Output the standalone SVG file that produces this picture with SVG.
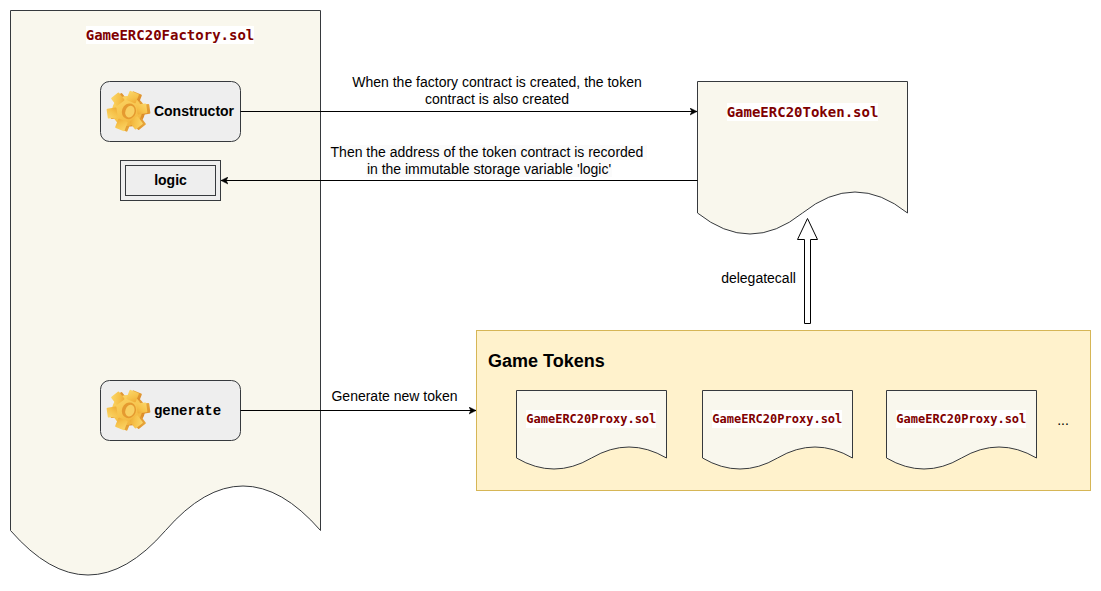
<svg xmlns="http://www.w3.org/2000/svg" xmlns:xlink="http://www.w3.org/1999/xlink" width="1101" height="591" viewBox="0 0 1101 591">
<style>
.doc{fill:#f9f7ed;stroke:#36393d;stroke-width:1}
.box{fill:#eeeeee;stroke:#36393d;stroke-width:1}
.edge{fill:none;stroke:#000;stroke-width:1}
.t{font-family:"Liberation Sans",Arial,sans-serif;font-size:14px;fill:#000;text-anchor:middle}
.b{font-weight:700}
.code{font-family:"DejaVu Sans Mono",monospace;font-weight:700;fill:#800000;text-anchor:middle}
.cbg{fill:#fff}
.lbg{fill:#fbfbfb}
</style>
<defs>
<marker id="arrow" markerWidth="8" markerHeight="8" refX="7" refY="4" orient="auto" markerUnits="userSpaceOnUse"><path d="M0 0.5L7 4L0 7.5L1.8 4Z" fill="#000" stroke="#000" stroke-width="0.5"/></marker>
<linearGradient id="gf" x1="0" y1="0" x2="1" y2="1"><stop offset="0" stop-color="#fbd76a"/><stop offset="0.6" stop-color="#f6c24a"/><stop offset="1" stop-color="#eeaa35"/></linearGradient>
<linearGradient id="gb" x1="0" y1="0" x2="1" y2="1"><stop offset="0" stop-color="#e9a93c"/><stop offset="1" stop-color="#d98526"/></linearGradient>
<g id="teeth">
<circle r="15"/>
<rect x="-5" y="-20" width="10" height="10" rx="1"/>
<rect x="-5" y="-20" width="10" height="10" rx="1" transform="rotate(60)"/>
<rect x="-5" y="-20" width="10" height="10" rx="1" transform="rotate(120)"/>
<rect x="-5" y="-20" width="10" height="10" rx="1" transform="rotate(180)"/>
<rect x="-5" y="-20" width="10" height="10" rx="1" transform="rotate(240)"/>
<rect x="-5" y="-20" width="10" height="10" rx="1" transform="rotate(300)"/>
</g>
<g id="gear">
<use xlink:href="#teeth" href="#teeth" fill="url(#gb)" transform="translate(2 0.5) rotate(22)"/>
<use xlink:href="#teeth" href="#teeth" fill="url(#gf)" transform="translate(-1 0) rotate(22)"/>
<ellipse cx="1" cy="0" rx="7" ry="8" fill="#e59a30" transform="rotate(20)"/>
<ellipse cx="2" cy="0" rx="4.500" ry="6" fill="#f8cf62" transform="rotate(20)"/>
</g>
</defs>
<g id="factory">
<path class="doc" d="M10.500 530.500V10.500H320.500V530.500Q243 441.500 165.500 530.500Q88 619.500 10.500 530.500Z"/>
<rect class="cbg" x="86" y="26" width="168" height="18"/>
<text class="code" x="170" y="40" font-size="14">GameERC20Factory.sol</text>
</g>
<g id="constructor">
<rect class="box" x="100.500" y="81.500" width="140" height="60" rx="9"/>
<use xlink:href="#gear" href="#gear" x="128" y="111"/>
<text class="t b" x="194" y="116">Constructor</text>
</g>
<g id="logic">
<rect class="box" x="120.500" y="160.500" width="100" height="40"/>
<rect class="box" x="125.500" y="165.500" width="90" height="30"/>
<text class="t b" x="170.500" y="185">logic</text>
</g>
<g id="generate">
<rect class="box" x="100.500" y="380.500" width="140" height="60" rx="9"/>
<use xlink:href="#gear" href="#gear" x="128" y="410"/>
<text x="187.500" y="415" text-anchor="middle" font-family="Liberation Mono,monospace" font-weight="700" font-size="14" fill="#000">generate</text>
</g>
<g id="token">
<path class="doc" d="M697.500 213V81.500H907.500V213Q855 171 802.500 213Q750 255 697.500 213Z"/>
<rect class="cbg" x="727" y="103" width="151" height="18"/>
<text class="code" x="802.500" y="117" font-size="14">GameERC20Token.sol</text>
</g>
<g id="game-tokens">
<rect x="476.500" y="330.500" width="614" height="160" fill="#fff2cc" stroke="#d6b656"/>
<text class="t b" x="488" y="367" style="font-size:18px;text-anchor:start">Game Tokens</text>
<text class="t" x="1063" y="425">...</text>
</g>
<g id="proxy-1">
<path class="doc" d="M516.500 458V390.500H666.500V458Q629 436 591.500 458Q554 480 516.500 458Z"/>
<rect class="cbg" x="526" y="410" width="130" height="18"/>
<text class="code" x="591.300" y="423" font-size="12">GameERC20Proxy.sol</text>
</g>
<g id="proxy-2">
<path class="doc" d="M702.500 458V390.500H852.500V458Q815 436 777.500 458Q740 480 702.500 458Z"/>
<rect class="cbg" x="712" y="410" width="130" height="18"/>
<text class="code" x="777.300" y="423" font-size="12">GameERC20Proxy.sol</text>
</g>
<g id="proxy-3">
<path class="doc" d="M886.500 458V390.500H1036.500V458Q999 436 961.500 458Q924 480 886.500 458Z"/>
<rect class="cbg" x="896" y="410" width="130" height="18"/>
<text class="code" x="961.300" y="423" font-size="12">GameERC20Proxy.sol</text>
</g>
<g id="connectors">
<path class="edge" d="M240.500 111.500H697" marker-end="url(#arrow)"/>
<path class="edge" d="M697.500 180.500H221" marker-end="url(#arrow)"/>
<path class="edge" d="M240.500 410.500H476" marker-end="url(#arrow)"/>
<path d="M804.500 323.500V239.500H797.500L807.500 218.500L817.500 239.500H810.500V323.500Z" fill="#fff" stroke="#000"/>
</g>
<g id="labels">
<text class="t" x="497" y="87">When the factory contract is created, the token</text>
<text class="t" x="497" y="104">contract is also created</text>
<rect class="lbg" x="330" y="145" width="317" height="15"/>
<rect class="lbg" x="366" y="160" width="246" height="17"/>
<text class="t" x="487" y="157">Then the address of the token contract is recorded</text>
<text class="t" x="489" y="174">in the immutable storage variable 'logic'</text>
<text class="t" x="758.500" y="283">delegatecall</text>
<text class="t" x="394.500" y="401">Generate new token</text>
</g>
</svg>
